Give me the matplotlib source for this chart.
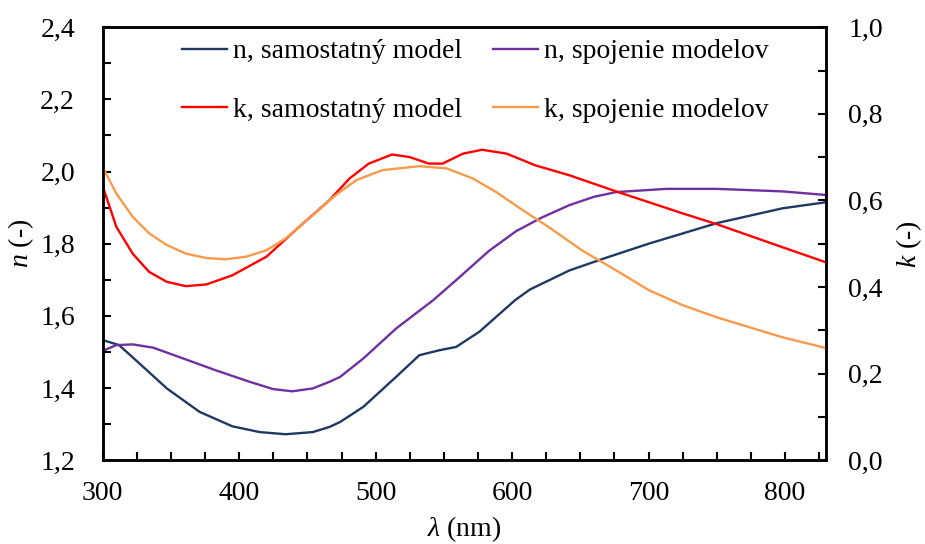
import matplotlib
matplotlib.use("Agg")
import matplotlib.pyplot as plt
from matplotlib.ticker import FuncFormatter, MultipleLocator

plt.rcParams['font.family'] = ['Liberation Serif', 'DejaVu Serif']
plt.rcParams['mathtext.fontset'] = 'custom'
plt.rcParams['mathtext.rm'] = 'Liberation Serif'
plt.rcParams['mathtext.it'] = 'Liberation Serif:italic'

# n, samostatny model
wl_n1 = [300, 312, 327, 347, 371, 395, 415, 434, 454, 466, 474, 491, 515, 532, 547, 559, 576, 602, 613, 642, 668, 700, 750, 798, 830]
n1 = [1.533, 1.519, 1.468, 1.399, 1.334, 1.294, 1.278, 1.272, 1.278, 1.292, 1.306, 1.348, 1.431, 1.491, 1.505, 1.514, 1.556, 1.643, 1.673, 1.726, 1.760, 1.800, 1.857, 1.898, 1.915]

# n, spojenie modelov
wl_n2 = [300, 310, 322, 337, 359, 383, 408, 425, 439, 454, 466, 474, 491, 515, 542, 559, 583, 603, 622, 642, 660, 676, 713, 750, 798, 830]
n2 = [1.503, 1.519, 1.521, 1.512, 1.482, 1.449, 1.417, 1.397, 1.391, 1.399, 1.417, 1.431, 1.482, 1.565, 1.643, 1.699, 1.780, 1.835, 1.873, 1.907, 1.930, 1.943, 1.952, 1.952, 1.945, 1.935]

# k, samostatny model
wl_k1 = [300, 310, 322, 334, 347, 361, 376, 395, 420, 444, 466, 481, 495, 512, 525, 539, 549, 564, 578, 596, 617, 642, 676, 725, 750, 798, 830]
k1 = [0.633, 0.539, 0.477, 0.435, 0.412, 0.402, 0.406, 0.427, 0.470, 0.539, 0.600, 0.651, 0.685, 0.706, 0.700, 0.685, 0.685, 0.708, 0.717, 0.708, 0.681, 0.658, 0.621, 0.570, 0.545, 0.492, 0.457]

# k, spojenie modelov
wl_k2 = [300, 310, 322, 334, 347, 361, 376, 390, 405, 420, 434, 454, 466, 474, 486, 505, 532, 552, 571, 588, 608, 627, 651, 676, 700, 725, 750, 798, 830]
k2 = [0.677, 0.616, 0.562, 0.524, 0.497, 0.477, 0.467, 0.464, 0.470, 0.485, 0.512, 0.566, 0.600, 0.620, 0.647, 0.670, 0.679, 0.674, 0.651, 0.620, 0.577, 0.538, 0.485, 0.439, 0.393, 0.358, 0.330, 0.284, 0.259]

labels = ['n, samostatný model', 'n, spojenie modelov', 'k, samostatný model', 'k, spojenie modelov']
colors = ['#1F3864', '#7030A0', '#FF0000', '#F79A4A']


def comma_fmt(v, pos):
    return f'{v:.1f}'.replace('.', ',')


fig = plt.figure(figsize=(9.25, 5.44), dpi=100)
ax = fig.add_axes([0.111, 0.154, 0.782, 0.796])
ax2 = ax.twinx()

l1, = ax.plot(wl_n1, n1, color=colors[0], lw=1.7)
l2, = ax.plot(wl_n2, n2, color=colors[1], lw=1.7)
l3, = ax2.plot(wl_k1, k1, color=colors[2], lw=1.7)
l4, = ax2.plot(wl_k2, k2, color=colors[3], lw=1.7)

ax.set_xlim(300, 830)
ax.set_ylim(1.2, 2.4)
ax2.set_ylim(0.0, 1.0)

ax.xaxis.set_major_locator(MultipleLocator(100))
ax.xaxis.set_minor_locator(MultipleLocator(25))
ax.yaxis.set_major_locator(MultipleLocator(0.2))
ax.yaxis.set_minor_locator(MultipleLocator(0.1))
ax2.yaxis.set_major_locator(MultipleLocator(0.2))
ax2.yaxis.set_minor_locator(MultipleLocator(0.1))
ax.yaxis.set_major_formatter(FuncFormatter(comma_fmt))
ax2.yaxis.set_major_formatter(FuncFormatter(comma_fmt))

for a in (ax, ax2):
    a.tick_params(which='both', direction='in', length=6, width=1.5, labelsize=20)
    for s in a.spines.values():
        s.set_linewidth(1.8)
ax.tick_params(axis='y', pad=20)
ax2.tick_params(axis='y', pad=16)
ax.tick_params(axis='x', pad=15)
ax.tick_params(top=False, which='both')

ax.set_xlabel(r'$\lambda$ (nm)', fontsize=20, labelpad=6)
ax.set_ylabel(r'$n$ (-)', fontsize=20, labelpad=3)
ax2.set_ylabel(r'$k$ (-)', fontsize=20, labelpad=8)

# ncol=2 fills columns first, so order handles column by column
ax.legend([l1, l3, l2, l4], [labels[0], labels[2], labels[1], labels[3]], ncol=2,
          frameon=False, fontsize=20, loc='upper left', bbox_to_anchor=(0.109, 0.973),
          borderpad=0, borderaxespad=0,
          handlelength=1.65, handletextpad=0.2, columnspacing=1.1, labelspacing=1.2)

fig.savefig('out.png', dpi=100)
